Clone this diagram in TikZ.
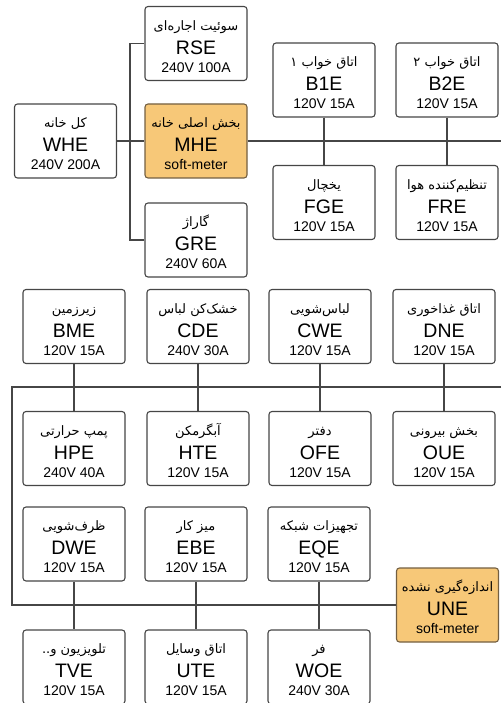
\documentclass[tikz,border=0pt]{standalone}
\usepackage{fontspec}
\setmainfont{Liberation Sans}
\newfontfamily\farsi[Script=Arabic]{DejaVu Sans}
\TeXXeTstate=1
\lineskiplimit=-30pt

\definecolor{boxline}{RGB}{70,70,70}
\definecolor{wirecol}{RGB}{70,70,70}
\definecolor{softfill}{RGB}{247,200,120}
\definecolor{softline}{RGB}{115,95,65}

\newcommand\fatext[1]{{\farsi\fontsize{13}{14}\selectfont\beginR #1\endR}}
\newcommand\meterid{\fontsize{19.5}{24}\selectfont}
\newcommand\meterval{\fontsize{14}{18}\selectfont}
\newcommand\meterlines[3]{\rule{0pt}{16pt}\fatext{#1}\\[6pt]\meterid #2\\\meterval #3}

\tikzset{
  meter/.style={draw=boxline,line width=1.1pt,fill=white,rounded corners=3pt,
    minimum width=102pt,minimum height=74pt,inner sep=0pt,align=center,
    font=\fontsize{14}{18}\selectfont},
  softmeter/.style={meter,draw=softline,fill=softfill},
  wire/.style={draw=wirecol,line width=1.2pt}
}

\begin{document}
\begin{tikzpicture}[x=1pt,y=-1pt]

  \useasboundingbox (0,0) rectangle (501,703);
  \clip (0,0) rectangle (501,703);

  % main panel
  \node[meter] (whe) at (65.5,141) {\meterlines{کل خانه}{WHE}{240V 200A}};
  \node[meter] (rse) at (196,43.5) {\meterlines{سوئیت اجاره^^^^200cای}{RSE}{240V 100A}};
  \node[softmeter] (mhe) at (196,141) {\meterlines{بخش اصلی خانه}{MHE}{soft-meter}};
  \node[meter] (gre) at (196,240) {\meterlines{گاراژ}{GRE}{240V 60A}};

  \coordinate (trunk) at (130,141);
  \coordinate (mheout) at (501,141);
  \draw[wire] (whe) -- (mhe);
  \draw[wire] (rse.west) -| (trunk) |- (gre.west);
  \draw[wire] (mhe.east) -- (mheout);

  % bedrooms, fridge, air
  \node[meter] (b1e) at (324,80) {\meterlines{اتاق خواب ۱}{B1E}{120V 15A}};
  \node[meter] (b2e) at (447,80) {\meterlines{اتاق خواب ۲}{B2E}{120V 15A}};
  \node[meter] (fge) at (324,202.5) {\meterlines{یخچال}{FGE}{120V 15A}};
  \node[meter] (fre) at (447,202.5) {\meterlines{تنظیم^^^^200cکننده هوا}{FRE}{120V 15A}};
  \draw[wire] (b1e) -- (fge);
  \draw[wire] (b2e) -- (fre);

  % second bus
  \node[meter] (bme) at (74,326.5) {\meterlines{زیرزمین}{BME}{120V 15A}};
  \node[meter] (cde) at (198,326.5) {\meterlines{خشک^^^^200cکن لباس}{CDE}{240V 30A}};
  \node[meter] (cwe) at (320,326.5) {\meterlines{لباس^^^^200cشویی}{CWE}{120V 15A}};
  \node[meter] (dne) at (444,326.5) {\meterlines{اتاق غذاخوری}{DNE}{120V 15A}};
  \node[meter] (hpe) at (74,448.5) {\meterlines{پمپ حرارتی}{HPE}{240V 40A}};
  \node[meter] (hte) at (198,448.5) {\meterlines{آبگرمکن}{HTE}{120V 15A}};
  \node[meter] (ofe) at (320,448.5) {\meterlines{دفتر}{OFE}{120V 15A}};
  \node[meter] (oue) at (444,448.5) {\meterlines{بخش بیرونی}{OUE}{120V 15A}};

  \node[meter] (dwe) at (74,544) {\meterlines{ظرف^^^^200cشویی}{DWE}{120V 15A}};
  \node[meter] (ebe) at (196,544) {\meterlines{میز کار}{EBE}{120V 15A}};
  \node[meter] (eqe) at (319,544) {\meterlines{تجهیزات شبکه}{EQE}{120V 15A}};
  \node[softmeter] (une) at (447.5,605) {\meterlines{اندازه^^^^200cگیری نشده}{UNE}{soft-meter}};
  \node[meter] (tve) at (74,667) {\meterlines{تلویزیون و..}{TVE}{120V 15A}};
  \node[meter] (ute) at (196,667) {\meterlines{اتاق وسایل}{UTE}{120V 15A}};
  \node[meter] (woe) at (319,667) {\meterlines{فر}{WOE}{240V 30A}};

  \coordinate (busin) at (501,387);
  \coordinate (busleft) at (12,387);
  \coordinate (buslow) at (12,605);
  \draw[wire] (busin) -- (busleft) -- (buslow) -- (une.west);
  \draw[wire] (bme) -- (hpe);
  \draw[wire] (cde) -- (hte);
  \draw[wire] (cwe) -- (ofe);
  \draw[wire] (dne) -- (oue);
  \draw[wire] (dwe) -- (tve);
  \draw[wire] (ebe) -- (ute);
  \draw[wire] (eqe) -- (woe);

\end{tikzpicture}
\end{document}
